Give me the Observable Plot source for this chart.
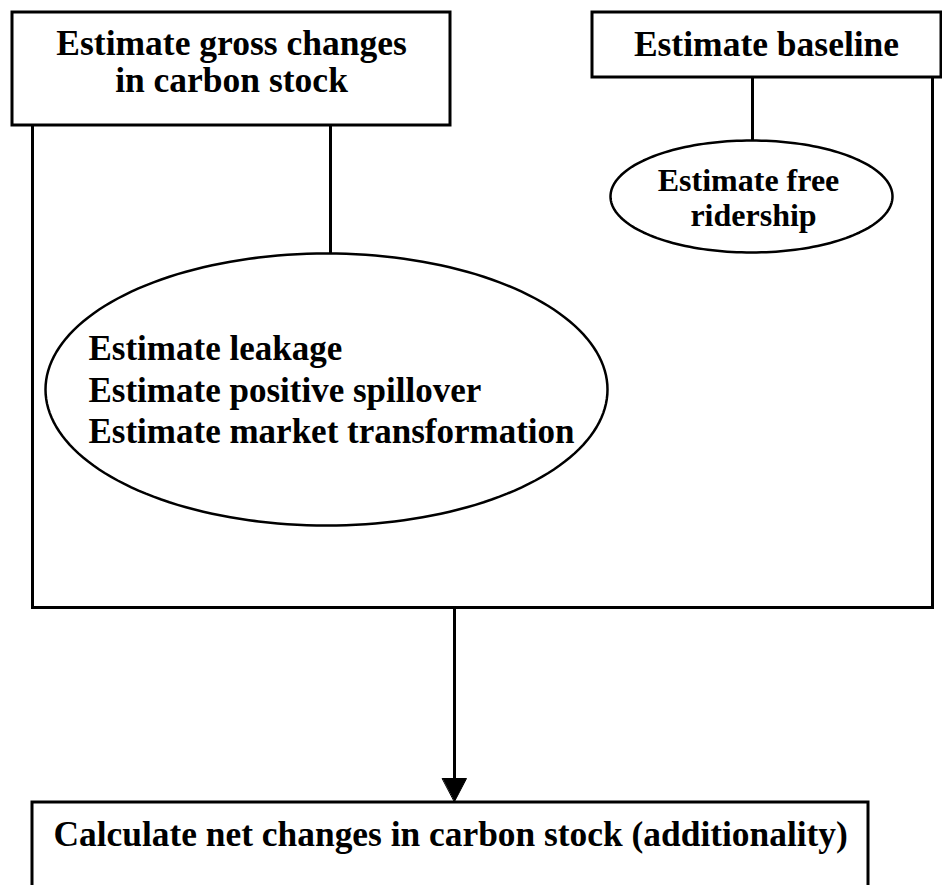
<!DOCTYPE html>
<html>
<head>
<meta charset="utf-8">
<script src="https://cdn.jsdelivr.net/npm/d3@7"></script>
<script src="https://cdn.jsdelivr.net/npm/@observablehq/plot@0.6"></script>
<style>
  html, body { margin: 0; padding: 0; background: #fff; }
</style>
</head>
<body>
<div id="chart"></div>
<script>
// ---- Diagram data (diagram units = pixels of the 942x885 canvas) ----
const boxes = [
  { id: "gross",    x1: 12,  x2: 450, y1: 12,  y2: 125 },
  { id: "baseline", x1: 592, x2: 941, y1: 12,  y2: 77  },
  { id: "net",      x1: 32,  x2: 868, y1: 802, y2: 900 }
];
const ellipses = [
  { id: "spill", cx: 326, cy: 389, rx: 281, ry: 136 },
  { id: "free",  cx: 751, cy: 196, rx: 141, ry: 56 }
];
const connectors = [
  { x1: 32,  y1: 125, x2: 32,  y2: 607 },
  { x1: 330, y1: 125, x2: 330, y2: 253 },
  { x1: 752, y1: 77,  x2: 752, y2: 140 },
  { x1: 932, y1: 77,  x2: 932, y2: 607 },
  { x1: 32,  y1: 607, x2: 932, y2: 607 },
  { x1: 454, y1: 607, x2: 454, y2: 780 }
];
const arrowHead = { x: 454, y: 801, w: 24, h: 23 };
const topLabels = [
  { text: "Estimate gross changes", x: 231, y: 43.5 },
  { text: "in carbon stock",        x: 231, y: 80.5 },
  { text: "Estimate baseline",      x: 766, y: 44 }
];
const freeLabels = [
  { text: "Estimate free", x: 748, y: 180 },
  { text: "ridership",     x: 753, y: 215 }
];
const ellipseLabels = [
  { text: "Estimate leakage",               x: 88, y: 348 },
  { text: "Estimate positive spillover",    x: 88, y: 390 },
  { text: "Estimate market transformation", x: 88, y: 431 }
];
const bottomLabels = [
  { text: "Calculate net changes in carbon stock (additionality)", x: 53, y: 834 }
];

// ---- Build shape geometry for the library ----
const ellipsePts = ellipses.flatMap(e =>
  d3.range(0, 181).map(i => {
    const t = (i / 180) * 2 * Math.PI;
    return { id: e.id, x: e.cx + e.rx * Math.cos(t), y: e.cy + e.ry * Math.sin(t) };
  })
);
const headPts = [
  { x: arrowHead.x - arrowHead.w / 2, y: arrowHead.y - arrowHead.h },
  { x: arrowHead.x + arrowHead.w / 2, y: arrowHead.y - arrowHead.h },
  { x: arrowHead.x, y: arrowHead.y }
];

const font = "'Liberation Serif', 'Times New Roman', serif";
const sw = 3;

const chart = Plot.plot({
  width: 942,
  height: 885,
  margin: 0,
  x: { domain: [0, 942], axis: null },
  y: { domain: [0, 885], reverse: true, axis: null },
  style: { background: "#fff", fontFamily: font },
  marks: [
    Plot.rect(boxes, { x1: "x1", x2: "x2", y1: "y1", y2: "y2", fill: "white", stroke: "black", strokeWidth: sw }),
    Plot.link(connectors, { x1: "x1", y1: "y1", x2: "x2", y2: "y2", stroke: "black", strokeWidth: sw, strokeLinecap: "square" }),
    Plot.line(ellipsePts, { x: "x", y: "y", z: "id", fill: "white", stroke: "black", strokeWidth: 2.5, curve: "linear-closed" }),
    Plot.line(headPts, { x: "x", y: "y", fill: "black", stroke: "black", strokeWidth: 1, curve: "linear-closed" }),
    Plot.text(topLabels, { x: "x", y: "y", text: "text", textAnchor: "middle", fontSize: 35.5, fontWeight: "bold", fill: "black" }),
    Plot.text(freeLabels, { x: "x", y: "y", text: "text", textAnchor: "middle", fontSize: 32, fontWeight: "bold", fill: "black" }),
    Plot.text(ellipseLabels, { x: "x", y: "y", text: "text", textAnchor: "start", fontSize: 35, fontWeight: "bold", fill: "black" }),
    Plot.text(bottomLabels, { x: "x", y: "y", text: "text", textAnchor: "start", fontSize: 35.4, fontWeight: "bold", fill: "black" })
  ]
});
document.getElementById("chart").appendChild(chart);
</script>
</body>
</html>
